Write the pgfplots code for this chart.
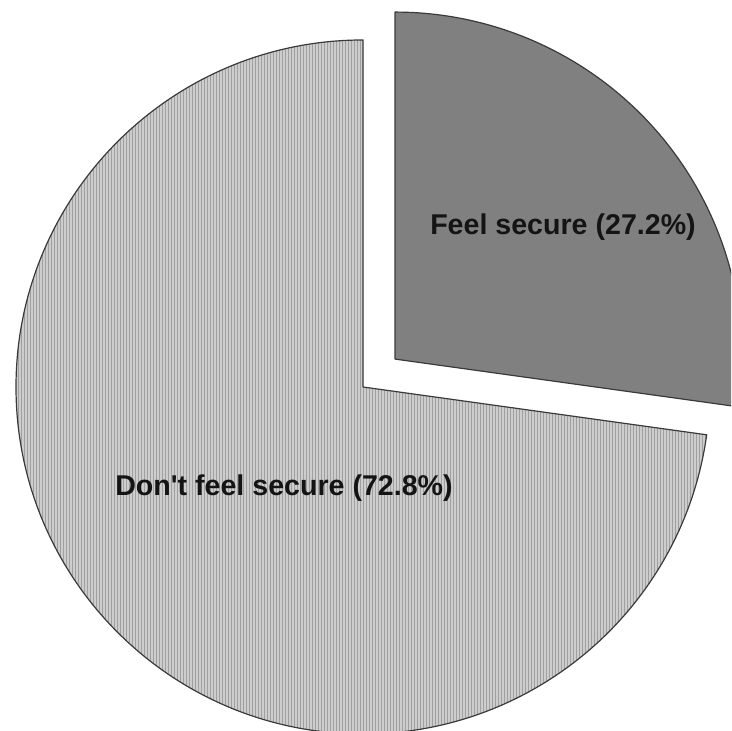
\documentclass[border=0pt]{standalone}
\usepackage{pgfplots}
\pgfplotsset{compat=1.18}
\usepackage{pgfplotstable}
\usepackage{fontspec}
\setmainfont{Liberation Sans}[Ligatures=TeXOff]
\usetikzlibrary{patterns.meta}

\definecolor{sliceDark}{HTML}{808080}
\definecolor{sliceLight}{HTML}{CDCDCD}
\definecolor{stripe}{HTML}{A0A0A0}
\definecolor{edge}{HTML}{3A3A3A}
\definecolor{txt}{HTML}{141414}

% shares of respondents (percent)
\pgfplotstableread[col sep=comma]{
share,label
27.2,Feel secure
72.8,Don't feel secure
}\piedata

\begin{document}
\begin{tikzpicture}
\pgfplotstablegetelem{0}{share}\of\piedata \edef\shareA{\pgfplotsretval}
\pgfplotstablegetelem{1}{share}\of\piedata \edef\shareB{\pgfplotsretval}
\pgfplotstablegetelem{0}{label}\of\piedata \edef\labelA{\pgfplotsretval}
\pgfplotstablegetelem{1}{label}\of\piedata \edef\labelB{\pgfplotsretval}
% slice angles: first slice clockwise from 12 o'clock, second slice the rest
\pgfmathsetmacro\angA{90-3.6*\shareA}
\pgfmathsetmacro\angB{90+3.6*\shareB}
\pgfmathsetmacro\midA{90-1.8*\shareA}
% pie centre, radius and explode distance (axis units)
\def\cx{363}\def\cy{344}\def\R{173.5pt}\def\explode{42.5}
\pgfmathsetmacro\cxA{\cx+\explode*cos(\midA)}
\pgfmathsetmacro\cyA{\cy+\explode*sin(\midA)}
\begin{axis}[
  hide axis,
  x=0.5pt, y=0.5pt,
  xmin=0, xmax=731, ymin=0, ymax=731,
  clip=true,
]
% large slice: light grey with fine vertical stripes
\draw[draw=edge, line width=0.6pt, line join=round,
      preaction={fill=sliceLight},
      pattern={Lines[angle=90, distance=1.5pt, line width=0.45pt]},
      pattern color=stripe]
  (axis cs:\cx,\cy) -- ++(90:\R) arc[start angle=90, end angle=\angB, radius=\R] -- cycle;
% exploded small slice
\draw[draw=edge, line width=0.6pt, line join=round, fill=sliceDark]
  (axis cs:\cxA,\cyA) -- ++(90:\R) arc[start angle=90, end angle=\angA, radius=\R] -- cycle;
% slice labels
\node[font=\fontsize{14.3}{17}\selectfont\bfseries, text=txt, inner sep=0pt]
  at (axis cs:563,503.5) {\labelA\ (\shareA\%)};
\node[font=\fontsize{14.3}{17}\selectfont\bfseries, text=txt, inner sep=0pt]
  at (axis cs:284,243) {\labelB\ (\shareB\%)};
\end{axis}
\pgfresetboundingbox
\path[use as bounding box] (current axis.south west) rectangle (current axis.north east);
\end{tikzpicture}
\end{document}
